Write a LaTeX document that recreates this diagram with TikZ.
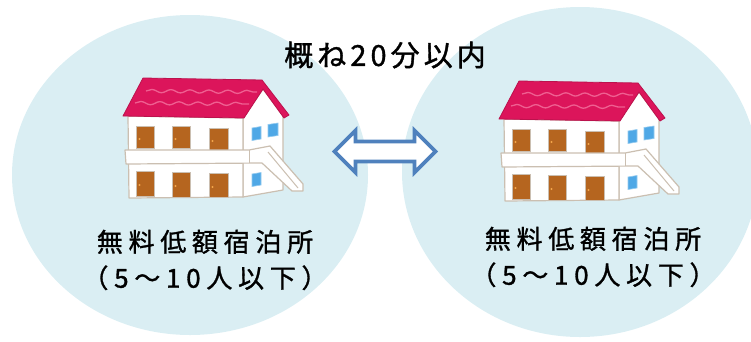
\documentclass[tikz,border=0pt]{standalone}
\usepackage{fontspec}
\usetikzlibrary{shapes.geometric,decorations.pathmorphing}
\newfontfamily\jptitle{Noto Sans CJK JP}[LetterSpace=14,FakeBold=1.2]
\newfontfamily\jplabel{Noto Sans CJK JP}[LetterSpace=22,FakeBold=1.2]

\definecolor{areablue}{HTML}{DAEEF3}
\definecolor{arrowblue}{HTML}{4F81BD}
\definecolor{outlinetan}{HTML}{CBBFB1}
\definecolor{roofred}{HTML}{DC155B}
\definecolor{roofwave}{HTML}{EF5F91}
\definecolor{doorbrown}{HTML}{B5651F}
\definecolor{knoborange}{HTML}{F2A54A}
\definecolor{windowblue}{HTML}{4FA8E6}

\tikzset{
  area/.style={ellipse, fill=areablue, draw=none, inner sep=0pt},
  caption/.style={align=center, text=black, inner sep=0pt},
  wall/.style={fill=white, draw=outlinetan, line width=1.2pt, line join=round},
  door/.style={fill=doorbrown, draw=outlinetan, line width=0.8pt},
  knob/.style={fill=knoborange},
  roof/.style={fill=roofred, draw=roofred!85!black, line width=0.8pt, line join=round},
  wave/.style={draw=roofwave, line width=1.3pt, decorate,
    decoration={snake, amplitude=1.6pt, segment length=19pt}},
  pane/.style={fill=windowblue, draw=windowblue!60!white, line width=0.6pt},
  blockarrow/.style={fill=white, draw=arrowblue, line width=3.6pt, line join=miter},
  % two-storey apartment house, coordinates in pixels
  house/.pic={
    % side wall with gable
    \path[wall] (243,118) -- (263,89) -- (283,116) -- (283,190) -- (243,197) -- cycle;
    % front wall
    \path[wall] (128,116) -- (243,118) -- (243,197) -- (129,198) -- cycle;
    % upper doors
    \path[door] (136,126) rectangle (154,148);
    \path[door] (172,126) rectangle (190,148);
    \path[door] (209,128) rectangle (228,150);
    % lower doors
    \path[door] (136,171) rectangle (154,196);
    \path[door] (172,172) rectangle (190,197);
    \path[door] (209,173) rectangle (228,197);
    \path[knob] (139.5,139) circle (1.1pt) (175.5,139) circle (1.1pt) (212.5,141) circle (1.1pt)
                (139.5,185) circle (1.1pt) (175.5,186) circle (1.1pt) (212.5,187) circle (1.1pt);
    % side windows
    \path[pane] (252,128) -- (261,126.5) -- (261,139) -- (252,140.5) -- cycle;
    \path[pane] (268,124.5) -- (278,123) -- (278,135.5) -- (268,137) -- cycle;
    \path[pane] (252,174) -- (261,172.5) -- (261,185) -- (252,186.5) -- cycle;
    % roof
    \path[roof] (143,78) -- (262,80) -- (289,115) -- (284,118) -- (263,89) -- (244,118)
                -- (123,116) -- cycle;
    \path[wave] (146,91) -- (257,92);
    \path[wave] (135,103) -- (249,104);
    % corridor and stairs
    \path[wall] (125,150) -- (249,150) -- (270,146) -- (303,184) -- (303,191) -- (292,191)
                -- (262,163) -- (126,164) -- cycle;
    \path[draw=outlinetan, line width=1pt] (249,150) -- (249,163);
    \path[draw=outlinetan, line width=1pt] (268,152) -- (298,188);
  }
}

\begin{document}
\begin{tikzpicture}[x=1pt, y=-1pt]
  \useasboundingbox (0,0) rectangle (751,341);
  \clip (0,0) rectangle (751,341);

  % service areas
  \node[area, minimum width=356pt, minimum height=320pt] (leftarea) at (190,175) {};
  \node[area, minimum width=356pt, minimum height=330pt] (rightarea) at (580,172) {};

  % buildings
  \pic at (0,0) {house};
  \pic at (376,3) {house};

  % two-way travel arrow
  \coordinate (link) at (385,151.5);
  \path[blockarrow] (334.5,151.5) -- (355.5,130.5) -- (355.5,141.5) -- (414.5,141.5)
    -- (414.5,130.5) -- (435.5,151.5) -- (414.5,172.5) -- (414.5,161.5)
    -- (355.5,161.5) -- (355.5,172.5) -- cycle;

  % labels
  \node[caption, font=\jptitle\fontsize{29}{34}\selectfont] (time) at (385,55) {概ね20分以内};
  \node[caption, font=\jplabel\fontsize{26}{36}\selectfont] (leftname) at (205,260)
    {無料低額宿泊所\\（5〜10人以下）};
  \node[caption, font=\jplabel\fontsize{26}{36}\selectfont] (rightname) at (593,257)
    {無料低額宿泊所\\（5〜10人以下）};
\end{tikzpicture}
\end{document}
